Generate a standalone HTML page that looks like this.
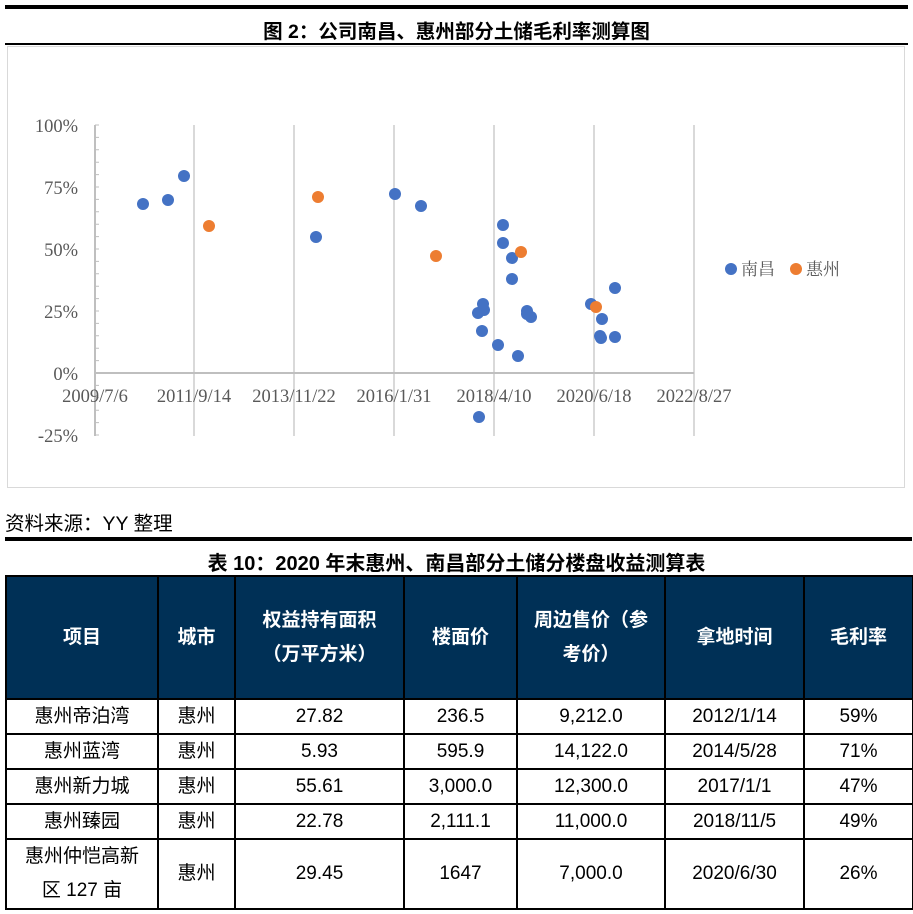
<!DOCTYPE html>
<html><head><meta charset="utf-8"><style>
body{margin:0;width:913px;height:914px;background:#fff;position:relative;overflow:hidden;font-family:"Liberation Sans","Noto Sans CJK SC",sans-serif}
.a{position:absolute}
table{position:absolute;left:5px;top:575px;border-collapse:collapse;width:907px;table-layout:fixed}
td{border:2px solid #000;text-align:center;font-size:19px;color:#000;padding:0;line-height:30px}
th{background:#003056;color:#fff;border:2px solid #000;font-size:19px;font-weight:bold;line-height:34px;height:121px;padding:0}
</style></head><body>
<div class="a" style="left:5px;top:5px;width:903px;height:4px;background:#000"></div>
<div class="a" style="left:0;top:15px;width:913px;text-align:center;font-weight:bold;font-size:19.5px">图 2：公司南昌、惠州部分土储毛利率测算图</div>
<div class="a" style="left:5px;top:43px;width:903px;height:2px;background:#000"></div>
<div class="a" style="left:7px;top:46px;width:896px;height:440px;border:1px solid #d9d9d9"></div>
<svg class="a" style="left:0;top:0" width="913" height="500">
<g stroke="#d9d9d9" stroke-width="2">
<line x1="194" y1="125" x2="194" y2="436"/><line x1="294" y1="125" x2="294" y2="436"/><line x1="394" y1="125" x2="394" y2="436"/><line x1="494" y1="125" x2="494" y2="436"/><line x1="594" y1="125" x2="594" y2="436"/><line x1="694" y1="125" x2="694" y2="436"/>
</g>
<line x1="95" y1="373" x2="694" y2="373" stroke="#bfbfbf" stroke-width="2"/>
<line x1="95" y1="125" x2="95" y2="436" stroke="#bfbfbf" stroke-width="2"/>
<g stroke="#bfbfbf" stroke-width="1">
<path d="M95 125h4M95 137.4h4M95 149.8h4M95 162.2h4M95 174.6h4M95 187h4M95 199.4h4M95 211.8h4M95 224.2h4M95 236.6h4M95 249h4M95 261.4h4M95 273.8h4M95 286.2h4M95 298.6h4M95 311h4M95 323.4h4M95 335.8h4M95 348.2h4M95 360.6h4M95 385.4h4M95 397.8h4M95 410.2h4M95 422.6h4M95 435h4"/>
</g>
<g font-family="Liberation Serif,serif" font-size="18.5" fill="#595959" text-anchor="end">
<text x="78" y="132">100%</text><text x="78" y="194">75%</text><text x="78" y="256">50%</text><text x="78" y="318">25%</text><text x="78" y="380">0%</text><text x="78" y="442">-25%</text>
</g>
<g font-family="Liberation Serif,serif" font-size="18.5" fill="#595959" text-anchor="middle">
<text x="95" y="402">2009/7/6</text><text x="194" y="402">2011/9/14</text><text x="294" y="402">2013/11/22</text><text x="394" y="402">2016/1/31</text><text x="494" y="402">2018/4/10</text><text x="594" y="402">2020/6/18</text><text x="694" y="402">2022/8/27</text>
</g>
<g fill="#4472c4">
<circle cx="143" cy="204" r="6"/><circle cx="168" cy="200" r="6"/><circle cx="184" cy="176" r="6"/><circle cx="316" cy="237" r="6"/><circle cx="395" cy="194" r="6"/><circle cx="421" cy="206" r="6"/><circle cx="503" cy="225" r="6"/><circle cx="503" cy="243" r="6"/><circle cx="512" cy="258" r="6"/><circle cx="512" cy="279" r="6"/><circle cx="483" cy="304" r="6"/><circle cx="484" cy="310" r="6"/><circle cx="478" cy="313" r="6"/><circle cx="482" cy="331" r="6"/><circle cx="498" cy="345" r="6"/><circle cx="518" cy="356" r="6"/><circle cx="479" cy="417" r="6"/><circle cx="527" cy="311" r="6"/><circle cx="527" cy="314" r="6"/><circle cx="531" cy="317" r="6"/><circle cx="591" cy="304" r="6"/><circle cx="602" cy="319" r="6"/><circle cx="600" cy="336" r="6"/><circle cx="601" cy="338" r="6"/><circle cx="615" cy="337" r="6"/><circle cx="615" cy="288" r="6"/>
<circle cx="731" cy="269" r="6"/>
</g>
<g fill="#ed7d31">
<circle cx="209" cy="226" r="6"/><circle cx="318" cy="197" r="6"/><circle cx="436" cy="256" r="6"/><circle cx="521" cy="252" r="6"/><circle cx="596" cy="307" r="6"/>
<circle cx="796" cy="269" r="6"/>
</g>
<g font-family="Liberation Serif,'Noto Serif CJK SC',serif" font-size="17" fill="#595959">
<text x="741" y="275">南昌</text><text x="806" y="275">惠州</text>
</g>
</svg>
<div class="a" style="left:5px;top:507px;font-size:19.5px">资料来源：YY 整理</div>
<div class="a" style="left:5px;top:537px;width:907px;height:4px;background:#000"></div>
<div class="a" style="left:0;top:547px;width:913px;text-align:center;font-weight:bold;font-size:20px">表 10：2020 年末惠州、南昌部分土储分楼盘收益测算表</div>
<table>
<colgroup><col style="width:152px"><col style="width:77px"><col style="width:169px"><col style="width:113px"><col style="width:148px"><col style="width:139px"><col style="width:109px"></colgroup>
<tr><th>项目</th><th>城市</th><th>权益持有面积<br>（万平方米）</th><th>楼面价</th><th>周边售价（参<br>考价）</th><th>拿地时间</th><th>毛利率</th></tr>
<tr style="height:35px"><td>惠州帝泊湾</td><td>惠州</td><td>27.82</td><td>236.5</td><td>9,212.0</td><td>2012/1/14</td><td>59%</td></tr>
<tr style="height:35px"><td>惠州蓝湾</td><td>惠州</td><td>5.93</td><td>595.9</td><td>14,122.0</td><td>2014/5/28</td><td>71%</td></tr>
<tr style="height:35px"><td>惠州新力城</td><td>惠州</td><td>55.61</td><td>3,000.0</td><td>12,300.0</td><td>2017/1/1</td><td>47%</td></tr>
<tr style="height:35px"><td>惠州臻园</td><td>惠州</td><td>22.78</td><td>2,111.1</td><td>11,000.0</td><td>2018/11/5</td><td>49%</td></tr>
<tr style="height:69px"><td style="line-height:34px">惠州仲恺高新<br>区 127 亩</td><td>惠州</td><td>29.45</td><td>1647</td><td>7,000.0</td><td>2020/6/30</td><td>26%</td></tr>
</table>
</body></html>
